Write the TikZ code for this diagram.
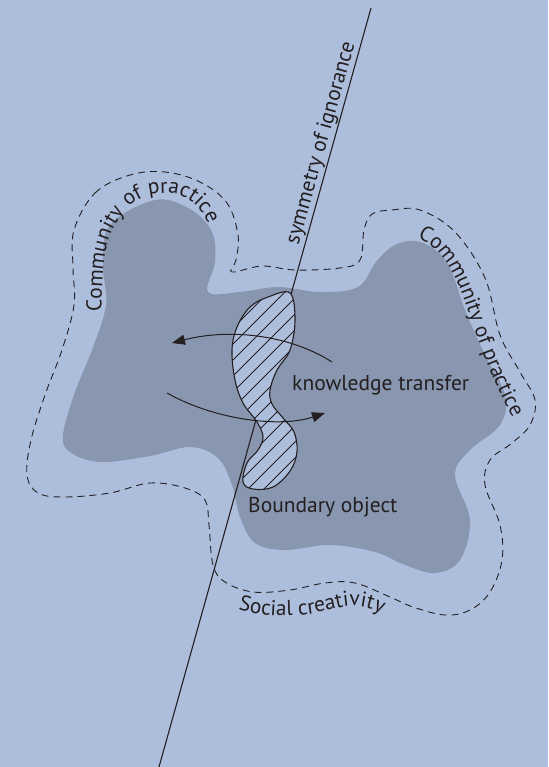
\documentclass[tikz,border=0pt]{standalone}
\usepackage{fontspec}
\setmainfont{PT Sans}
\usepackage{tikz}
\usetikzlibrary{arrows.meta}
\usetikzlibrary{decorations.text}
\usetikzlibrary{calc}
\definecolor{BackBlue}{RGB}{173,190,221}
\definecolor{PracticeGrey}{RGB}{136,150,176}
\definecolor{Ink}{RGB}{35,31,32}

\def\BoundaryShape{plot[smooth cycle, tension=0.6] coordinates {
  (290,293) (295,320) (290,350) (277,370) (270,390) (272,404) (283,418)
  (294,432) (297,452) (290,471) (273,487) (253,489) (243,482) (247,463)
  (258,450) (263,437) (257,422) (243,403) (235,380) (232,350) (237,327)
  (250,307) (268,297)}}

\begin{document}
\begin{tikzpicture}[x=1pt, y=-1pt,
    label text/.style={font=\fontsize{21.5}{25}\selectfont, text=Ink},
    curved label/.style={decorate, decoration={text along path,
        text align=center, text color=Ink,
        text={|\fontsize{21.5}{25}\selectfont|#1}}},
    transfer arrow/.style={Ink, line width=1pt, -{Triangle[length=13pt,width=10pt]}},
  ]
  \fill[BackBlue] (0,0) rectangle (548,767);
  \useasboundingbox (0,0) rectangle (548,767);

  % both communities of practice
  \fill[PracticeGrey] plot[smooth cycle, tension=0.6] coordinates {
    (155,200) (190,209) (212,232) (215,262) (208,292) (240,292) (278,287)
    (320,292) (358,287) (376,262) (395,245) (420,242) (447,262) (465,310)
    (485,355) (505,395) (500,425) (470,450) (455,475) (470,520) (460,560)
    (435,573) (405,565) (375,552) (330,545) (285,550) (255,543) (240,517)
    (232,485) (218,458) (190,447) (150,456) (100,462) (70,452) (63,435)
    (75,392) (92,350) (106,305) (103,265) (110,225)};

  % social creativity
  \draw[Ink, line width=0.9pt, dash pattern=on 7pt off 5pt]
    plot[smooth cycle, tension=0.6] coordinates {
    (74,230) (95,193) (130,175) (165,172) (200,182) (227,203) (238,235)
    (236,260) (232,272) (262,266) (295,270) (340,268) (360,260) (364,230)
    (372,214) (392,210) (420,210) (455,232) (485,278) (500,335) (520,372)
    (535,400) (530,425) (512,443) (490,460) (485,485) (500,525) (502,560)
    (490,592) (470,610) (445,615) (413,607) (390,597) (355,583) (325,583)
    (290,590) (253,592) (225,582) (213,565) (209,525) (205,500) (185,488)
    (150,483) (110,493) (65,497) (38,493) (27,475) (31,440) (45,395)
    (62,350) (74,305) (73,268)};

  \path[curved label={Community of practice}]
    plot[smooth, tension=0.7] coordinates {(102,318) (102,288) (106,250)
      (117,222) (136,201) (162,193) (186,198) (203,214) (210,230)};
  \path[curved label={Community of practice}]
    (392,232) .. controls (440,234) and (455,275) .. (466,305)
    .. controls (478,340) and (494,390) .. (526,440);
  \path[curved label={Social creativity}]
    (212,600) .. controls (258,621) and (300,618) .. (338,608)
    .. controls (362,602) and (386,610) .. (402,632);

  % symmetry of ignorance
  \coordinate (sym-top) at (371,8);
  \coordinate (sym-bot) at (159,767);
  \draw[Ink, line width=1.1pt] (sym-top) -- (sym-bot);
  \node[label text, anchor=base, rotate=74.4, inner sep=0pt] (soi)
    at ($(sym-top)!0.182!(sym-bot)+(-5.8,-1.6)$) {symmetry of ignorance};

  % boundary object
  \fill[BackBlue] \BoundaryShape;
  \begin{scope}
    \clip \BoundaryShape;
    \foreach \c in {545,561,...,775}
      \draw[Ink, line width=0.8pt] (\c-260,260) -- (\c-520,520);
  \end{scope}
  \draw[Ink, line width=1.1pt] \BoundaryShape;

  % knowledge transfer
  \coordinate (kt-back-start) at (332,362);
  \coordinate (kt-back-end) at (172,343);
  \coordinate (kt-forth-start) at (167,393);
  \coordinate (kt-forth-end) at (325,413);
  \draw[transfer arrow] (kt-back-start) .. controls (290,335) and (230,328) .. (kt-back-end);
  \draw[transfer arrow] (kt-forth-start) .. controls (215,420) and (280,428) .. (kt-forth-end);

  \node[label text, anchor=base west, inner sep=0pt] (kt) at (292,390) {knowledge transfer};
  \node[label text, anchor=base west, inner sep=0pt] (bo) at (248,512) {Boundary object};
\end{tikzpicture}
\end{document}
